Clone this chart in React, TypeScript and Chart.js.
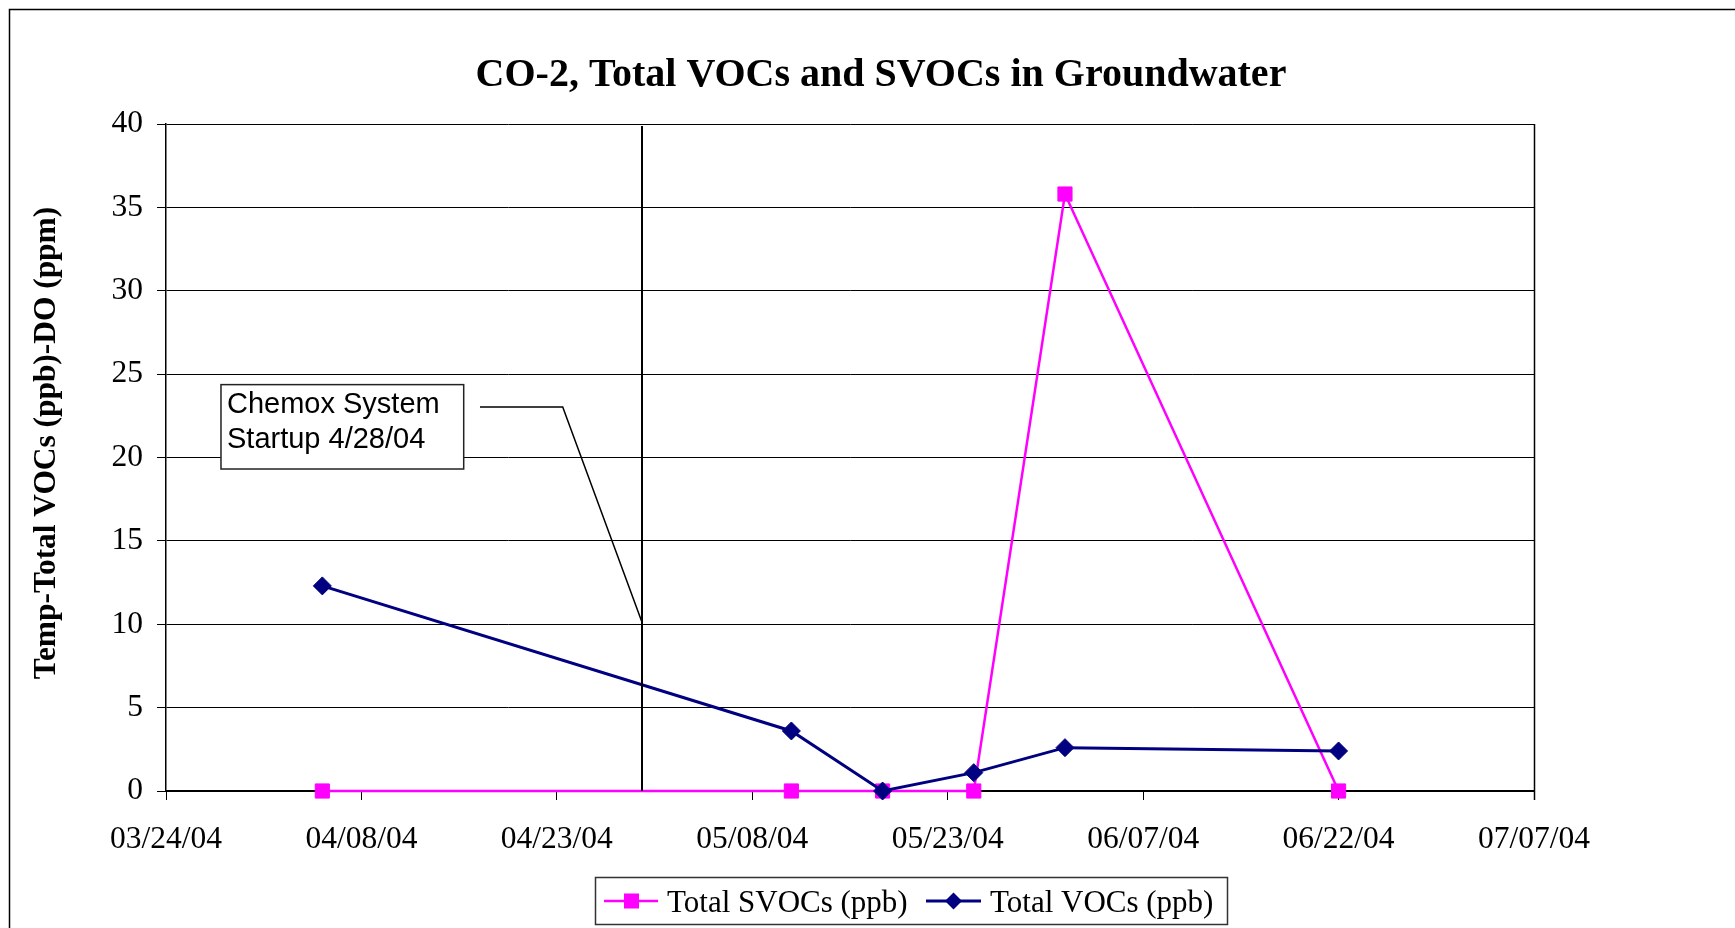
import React, { useEffect, useRef } from "react";
import { Chart, registerables } from "chart.js";

Chart.register(...registerables);

// ---- data ----
const BASE_DATE = "2004-03-24";
const sampleDates = ["2004-04-05", "2004-05-11", "2004-05-18", "2004-05-25", "2004-06-01", "2004-06-22"];
const svocValues = [0, 0, 0, 0, 35.8, 0];
const vocValues = [12.3, 3.6, 0, 1.1, 2.6, 2.4];
const seriesNames = ["Total SVOCs (ppb)", "Total VOCs (ppb)"];
const titleText = "CO-2, Total VOCs and SVOCs in Groundwater";
const yTitleText = "Temp-Total VOCs (ppb)-DO (ppm)";
const noteLines = ["Chemox System", "Startup 4/28/04"];
// x axis in days from BASE_DATE (03/24/04 .. 07/07/04, ticks every 15 days)
const xMinDay = 0;
const xMaxDay = 105;
const xStepDays = 15;
const yMin = 0;
const yMax = 40;
const yStep = 5;
// annotation anchors, in data units (days, y value)
const startupLineDay = 36.5;
const noteBox = { x0: 4.22, x1: 22.85, y0: 24.37, y1: 19.31 };
const leader = [
  { x: 24.1, y: 23.03 },
  { x: 30.45, y: 23.03 },
  { x: 36.5, y: 10.2 },
];

const DAY_MS = 86400000;
const baseMs = Date.parse(BASE_DATE + "T00:00:00Z");
const toDay = (d: string) => Math.round((Date.parse(d + "T00:00:00Z") - baseMs) / DAY_MS);
const fmtDay = (v: number) => {
  const d = new Date(baseMs + v * DAY_MS);
  const mm = String(d.getUTCMonth() + 1).padStart(2, "0");
  const dd = String(d.getUTCDate()).padStart(2, "0");
  const yy = String(d.getUTCFullYear() % 100).padStart(2, "0");
  return `${mm}/${dd}/${yy}`;
};

const SERIF = '"Liberation Serif", "Times New Roman", serif';
const SANS = '"Liberation Sans", Arial, sans-serif';
const MAGENTA = "#FF00FF";
const NAVY = "#000080";

const decorPlugin = {
  id: "decor",
  beforeDraw(chart: any) {
    const ctx = chart.ctx;
    ctx.save();
    ctx.fillStyle = "#fff";
    ctx.fillRect(0, 0, chart.width, chart.height);
    ctx.restore();
  },
  beforeDatasetsDraw(chart: any) {
    const { ctx, chartArea } = chart;
    ctx.save();
    ctx.strokeStyle = "#000";
    ctx.lineWidth = 1.5;
    ctx.beginPath();
    ctx.moveTo(Math.round(chartArea.right) + 0.5, chartArea.top);
    ctx.lineTo(Math.round(chartArea.right) + 0.5, chartArea.bottom + 9);
    ctx.stroke();
    ctx.restore();
  },
  afterDatasetsDraw(chart: any) {
    const { ctx } = chart;
    const xs = chart.scales.x;
    const ys = chart.scales.y;
    ctx.save();
    // startup vertical line
    const lx = Math.round(xs.getPixelForValue(startupLineDay));
    ctx.strokeStyle = "#000";
    ctx.lineWidth = 2;
    ctx.beginPath();
    ctx.moveTo(lx, ys.getPixelForValue(yMax) + 2);
    ctx.lineTo(lx, ys.getPixelForValue(yMin));
    ctx.stroke();
    // leader line
    ctx.lineWidth = 1.5;
    ctx.beginPath();
    leader.forEach((p, i) => {
      const px = xs.getPixelForValue(p.x);
      const py = ys.getPixelForValue(p.y);
      if (i === 0) ctx.moveTo(px, py);
      else ctx.lineTo(px, py);
    });
    ctx.stroke();
    // note box
    const bx0 = xs.getPixelForValue(noteBox.x0);
    const bx1 = xs.getPixelForValue(noteBox.x1);
    const by0 = ys.getPixelForValue(noteBox.y0);
    const by1 = ys.getPixelForValue(noteBox.y1);
    ctx.fillStyle = "#fff";
    ctx.fillRect(bx0, by0, bx1 - bx0, by1 - by0);
    ctx.strokeStyle = "#222";
    ctx.lineWidth = 1.5;
    ctx.strokeRect(bx0, by0, bx1 - bx0, by1 - by0);
    ctx.fillStyle = "#000";
    ctx.font = `29px ${SANS}`;
    ctx.textAlign = "left";
    ctx.textBaseline = "alphabetic";
    ctx.fillText(noteLines[0], bx0 + 6, by0 + 28);
    ctx.fillText(noteLines[1], bx0 + 6, by0 + 63);
    ctx.restore();
  },
  afterDraw(chart: any) {
    const { ctx } = chart;
    ctx.save();
    // outer border
    ctx.strokeStyle = "#000";
    ctx.lineWidth = 1.5;
    ctx.strokeRect(9.5, 9.5, 3000, 3000);
    // title
    ctx.fillStyle = "#000";
    ctx.font = `bold 40px ${SERIF}`;
    ctx.textAlign = "center";
    ctx.textBaseline = "alphabetic";
    ctx.fillText(titleText, 881, 86);
    // y title
    ctx.save();
    ctx.translate(55, 443);
    ctx.rotate(-Math.PI / 2);
    ctx.font = `bold 31.4px ${SERIF}`;
    ctx.fillText(yTitleText, 0, 0);
    ctx.restore();
    // legend
    const lb = { x: 595, y: 877, w: 632, h: 47 };
    ctx.fillStyle = "#fff";
    ctx.fillRect(lb.x, lb.y, lb.w, lb.h);
    ctx.strokeStyle = "#333";
    ctx.lineWidth = 1.5;
    ctx.strokeRect(lb.x + 0.5, lb.y + 0.5, lb.w, lb.h);
    const ly = 901;
    // item 1
    ctx.strokeStyle = MAGENTA;
    ctx.lineWidth = 2.5;
    ctx.beginPath();
    ctx.moveTo(604, ly);
    ctx.lineTo(658, ly);
    ctx.stroke();
    ctx.fillStyle = MAGENTA;
    ctx.fillRect(631.5 - 7.5, ly - 7.5, 15, 15);
    // item 2
    ctx.strokeStyle = NAVY;
    ctx.lineWidth = 3;
    ctx.beginPath();
    ctx.moveTo(926, ly);
    ctx.lineTo(981, ly);
    ctx.stroke();
    ctx.fillStyle = NAVY;
    ctx.beginPath();
    ctx.moveTo(953.5, ly - 8.5);
    ctx.lineTo(962, ly);
    ctx.lineTo(953.5, ly + 8.5);
    ctx.lineTo(945, ly);
    ctx.closePath();
    ctx.fill();
    ctx.fillStyle = "#000";
    ctx.font = `31px ${SERIF}`;
    ctx.textAlign = "left";
    ctx.textBaseline = "alphabetic";
    ctx.fillText(seriesNames[0], 667, 912);
    ctx.fillText(seriesNames[1], 990, 912);
    ctx.restore();
  },
};

export default function App() {
  const ref = useRef<HTMLCanvasElement | null>(null);
  useEffect(() => {
    if (!ref.current) return;
    const xDays = sampleDates.map(toDay);
    const chart = new Chart(ref.current, {
      type: "line",
      data: {
        datasets: [
          {
            label: seriesNames[0],
            data: xDays.map((x, i) => ({ x, y: svocValues[i] })),
            borderColor: MAGENTA,
            backgroundColor: MAGENTA,
            borderWidth: 2.5,
            pointStyle: "rect",
            pointRadius: 10,
            pointBorderWidth: 1,
            pointBorderColor: MAGENTA,
            pointBackgroundColor: MAGENTA,
            tension: 0,
            clip: false,
            order: 1,
          },
          {
            label: seriesNames[1],
            data: xDays.map((x, i) => ({ x, y: vocValues[i] })),
            borderColor: NAVY,
            backgroundColor: NAVY,
            borderWidth: 3,
            pointStyle: "rectRot",
            pointRadius: 9,
            pointBorderWidth: 1,
            pointBorderColor: NAVY,
            pointBackgroundColor: NAVY,
            tension: 0,
            clip: false,
            order: 0,
          },
        ],
      },
      options: {
        animation: false,
        responsive: false,
        devicePixelRatio: 1,
        layout: { padding: { left: 0, top: 124, right: 201, bottom: 0 } },
        plugins: { legend: { display: false }, title: { display: false }, tooltip: { enabled: false } },
        scales: {
          x: {
            type: "linear",
            min: xMinDay,
            max: xMaxDay,
            afterFit: (s: any) => {
              s.height = 137;
            },
            ticks: {
              stepSize: xStepDays,
              autoSkip: false,
              maxRotation: 0,
              color: "#000",
              padding: 21,
              font: { family: SERIF, size: 31.5 },
              callback: (v: any) => fmtDay(Number(v)),
            },
            grid: { drawOnChartArea: false, drawTicks: true, tickLength: 9, color: "#000", lineWidth: 1 },
            border: { display: true, color: "#000", width: 2 },
          },
          y: {
            min: yMin,
            max: yMax,
            afterFit: (s: any) => {
              s.width = 166;
            },
            ticks: {
              stepSize: yStep,
              color: "#000",
              padding: 14,
              font: { family: SERIF, size: 31.5 },
            },
            grid: { color: "#000", lineWidth: 1, tickLength: 9, drawTicks: true },
            border: { display: true, color: "#000", width: 1.5 },
          },
        },
      },
      plugins: [decorPlugin],
    } as any);
    return () => chart.destroy();
  }, []);
  return (
    <div style={{ position: "fixed", left: 0, top: 0, width: 1735, height: 928, background: "#fff" }}>
      <canvas ref={ref} width={1735} height={928} style={{ display: "block", width: 1735, height: 928 }} />
    </div>
  );
}
